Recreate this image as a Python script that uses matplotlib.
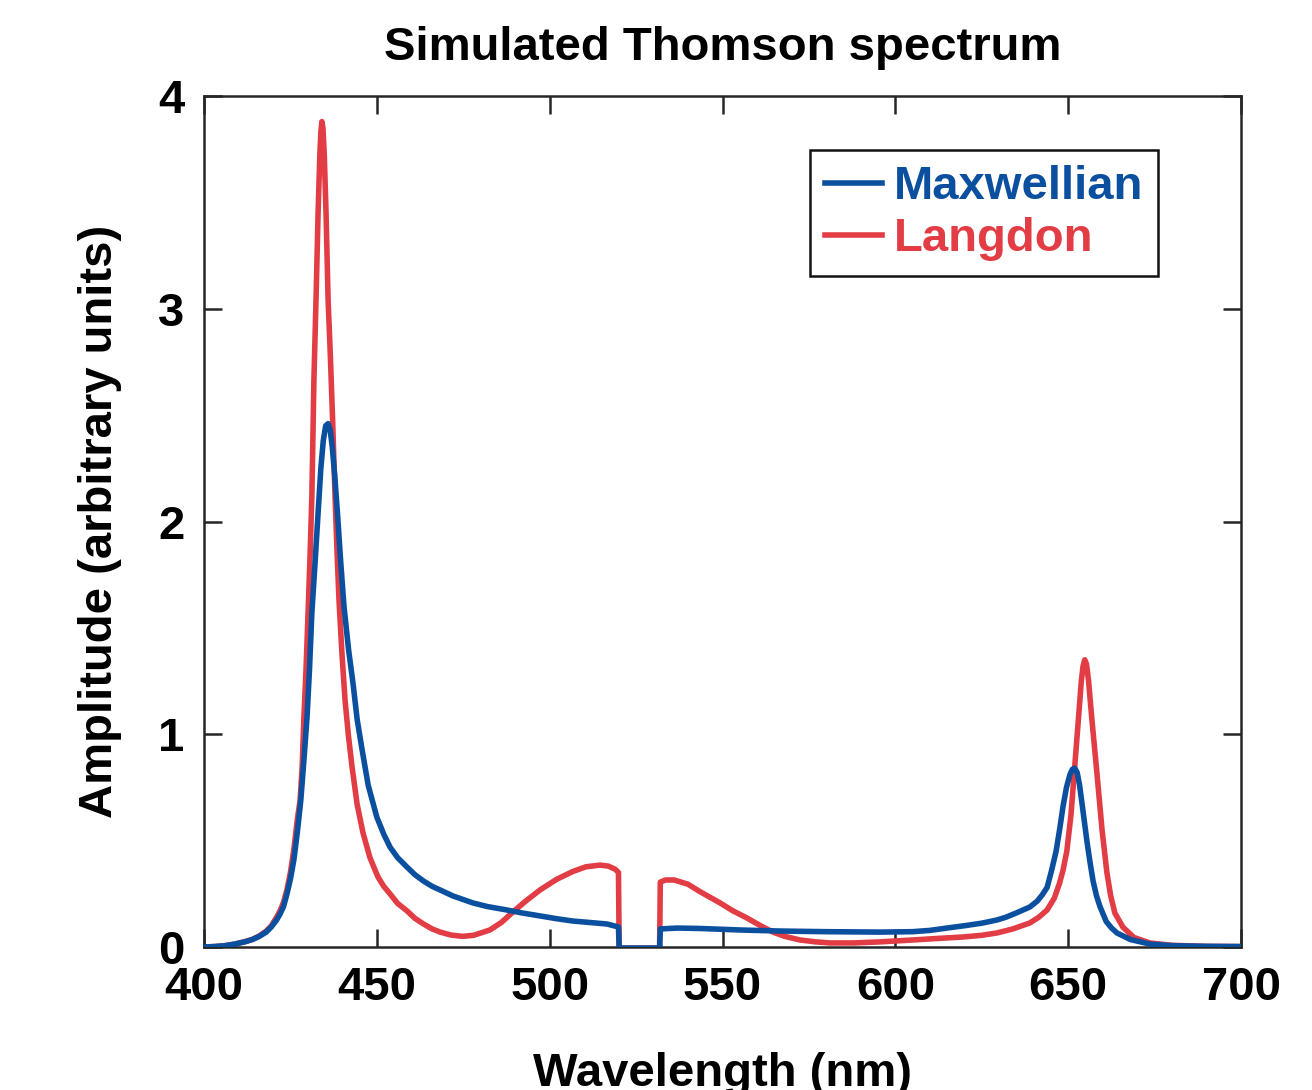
import matplotlib
matplotlib.use("Agg")
import matplotlib.pyplot as plt

# =============================================================================
# Data (wavelength in nm, amplitude in arbitrary units)
# =============================================================================
maxwell_wl = [400, 403, 406, 409, 412, 414, 416, 418, 419.5, 421, 422, 423, 424,
              425, 426, 427, 428, 429, 429.8, 430.5, 431.2, 432.1, 433, 433.8,
              434.5, 435.2, 435.9, 436.5, 437.1, 437.8, 438.6, 439.5, 440.5, 441.8,
              443.1, 444.3, 445.7, 447.5, 450, 452, 453.8, 456, 458.7, 461, 463.5,
              466, 468.3, 472, 477.8, 482, 487.6, 492, 497.2, 502, 506.7, 511,
              516.6, 519.9, 520.1, 531.8, 532.0, 537, 543.5, 555, 566.6, 580,
              595.5, 605, 610, 614.9, 620, 625, 629.4, 632, 635, 638.9, 641, 642.5,
              643.9, 645.2, 646.5, 647.6, 648.5, 649.5, 650.5, 651.2, 651.9, 652.6,
              653.3, 654.2, 655.4, 656.3, 657.2, 658.2, 659.2, 661, 662.5, 664.1,
              668, 673.6, 680, 690, 700]
maxwell_amp = [0.0, 0.002, 0.006, 0.014, 0.025, 0.035, 0.05, 0.07, 0.095, 0.127,
               0.155, 0.19, 0.25, 0.32, 0.41, 0.54, 0.69, 0.9, 1.08, 1.3, 1.57, 1.8,
               2.04, 2.25, 2.38, 2.45, 2.46, 2.43, 2.35, 2.22, 2.04, 1.82, 1.6, 1.4,
               1.24, 1.07, 0.93, 0.76, 0.61, 0.53, 0.47, 0.42, 0.376, 0.34, 0.31,
               0.285, 0.268, 0.24, 0.207, 0.19, 0.174, 0.16, 0.146, 0.133, 0.122,
               0.116, 0.108, 0.094, -0.005, -0.005, 0.085, 0.089, 0.087, 0.08, 0.075,
               0.072, 0.07, 0.072, 0.078, 0.089, 0.1, 0.112, 0.127, 0.14, 0.16,
               0.188, 0.215, 0.245, 0.28, 0.36, 0.45, 0.56, 0.66, 0.75, 0.81, 0.835,
               0.84, 0.82, 0.76, 0.65, 0.5, 0.4, 0.31, 0.24, 0.19, 0.12, 0.09, 0.066,
               0.035, 0.014, 0.006, 0.003, 0.002]

langdon_wl = [400, 403, 406, 409, 412, 414, 416, 418, 419.5, 421, 422, 423, 424,
              425, 426, 427, 427.8, 428.4, 428.9, 429.5, 430.1, 430.7, 431.2, 431.8,
              432.4, 433.0, 433.5, 433.8, 434.1, 434.4, 434.8, 435.3, 435.9, 436.5,
              437.2, 437.9, 438.5, 439.05, 439.9, 440.8, 441.8, 442.8, 444.3, 446,
              448, 450.3, 452, 453.8, 456, 458.7, 461, 463.3, 466, 468.3, 471.5,
              474.9, 478, 482.7, 486, 489.4, 493, 497.2, 502, 506.7, 510.5, 514.6,
              517, 519, 519.9, 520.1, 531.8, 532.0, 533.5, 536, 540, 543.5, 549.3,
              553, 557.1, 561, 564.6, 568, 572.4, 577, 581.1, 588, 595.5, 605.1,
              612, 619.6, 625, 629.4, 634, 638.9, 641.5, 643.9, 646, 647.5, 648.5,
              649.6, 650.8, 651.9, 653, 653.8, 654.3, 654.8, 655.3, 655.9, 656.8,
              658.3, 659.8, 661.2, 662.3, 663.5, 665.8, 669, 673.6, 680, 690, 700]
langdon_amp = [0.0, 0.002, 0.006, 0.014, 0.026, 0.036, 0.052, 0.075, 0.1, 0.14,
               0.17, 0.21, 0.27, 0.35, 0.46, 0.6, 0.69, 0.85, 1.08, 1.3, 1.57, 1.85,
               2.12, 2.67, 3.04, 3.45, 3.72, 3.83, 3.88, 3.85, 3.72, 3.45, 3.04, 2.8,
               2.48, 2.12, 1.85, 1.63, 1.38, 1.16, 0.99, 0.85, 0.67, 0.536, 0.42,
               0.33, 0.285, 0.25, 0.205, 0.17, 0.135, 0.11, 0.085, 0.07, 0.056, 0.05,
               0.055, 0.08, 0.115, 0.165, 0.215, 0.268, 0.318, 0.355, 0.377, 0.385,
               0.38, 0.365, 0.35, -0.005, -0.005, 0.305, 0.315, 0.315, 0.295, 0.26,
               0.207, 0.17, 0.136, 0.1, 0.07, 0.05, 0.033, 0.024, 0.019, 0.019, 0.024,
               0.033, 0.04, 0.047, 0.055, 0.066, 0.085, 0.113, 0.14, 0.174, 0.23, 0.3,
               0.36, 0.45, 0.62, 0.85, 1.08, 1.25, 1.32, 1.35, 1.33, 1.25, 1.08, 0.82,
               0.55, 0.35, 0.24, 0.16, 0.094, 0.045, 0.019, 0.008, 0.003, 0.002]

x_ticks = [400, 450, 500, 550, 600, 650, 700]
y_ticks = [0, 1, 2, 3, 4]

BLUE = '#0b4f9f'
RED = '#e23c44'


def main():
    plt.rcParams['font.family'] = ['Liberation Sans', 'DejaVu Sans']
    plt.rcParams['font.weight'] = 'bold'

    fig = plt.figure(figsize=(13.12, 10.90), dpi=100)
    ax = fig.add_axes([0.1555, 0.1312, 0.7904, 0.7807])

    ax.plot(maxwell_wl, maxwell_amp, color=BLUE, lw=4.0, label='Maxwellian',
            solid_joinstyle='round', zorder=3)
    ax.plot(langdon_wl, langdon_amp, color=RED, lw=4.0, label='Langdon',
            solid_joinstyle='round', zorder=2)

    ax.set_xlim(400, 700)
    ax.set_ylim(0, 4)
    ax.set_xticks(x_ticks)
    ax.set_yticks(y_ticks)

    # Ticks point inwards on all four sides
    ax.tick_params(direction='in', length=13, width=1.8, color='#262626',
                   top=True, right=True, labelsize=34)
    ax.tick_params(axis='x', pad=14)
    ax.tick_params(axis='y', pad=14)
    for lbl in ax.get_xticklabels() + ax.get_yticklabels():
        lbl.set_fontweight('bold')
    for sp in ax.spines.values():
        sp.set_linewidth(1.8)
        sp.set_color('#262626')

    ax.set_title('Simulated Thomson spectrum', fontsize=34, fontweight='bold', pad=26)
    # the reference crops the bottom of the x label at the figure edge
    ax.set_xlabel('Wavelength (nm)', fontsize=34, fontweight='bold', labelpad=30)
    ax.set_ylabel('Amplitude (arbitrary units)', fontsize=34, fontweight='bold', labelpad=26)

    leg = ax.legend(loc='upper right', bbox_to_anchor=(0.92, 0.9365), borderaxespad=0,
                    prop={'weight': 'bold', 'size': 34},
                    handlelength=1.2, handletextpad=0.25, labelspacing=0.17,
                    borderpad=0.32, fancybox=False, framealpha=1)
    leg.get_frame().set_edgecolor('#111111')
    leg.get_frame().set_linewidth(1.8)
    for txt, line in zip(leg.get_texts(), leg.get_lines()):
        txt.set_color(line.get_color())

    fig.savefig('out.png', dpi=100)


if __name__ == '__main__':
    main()
